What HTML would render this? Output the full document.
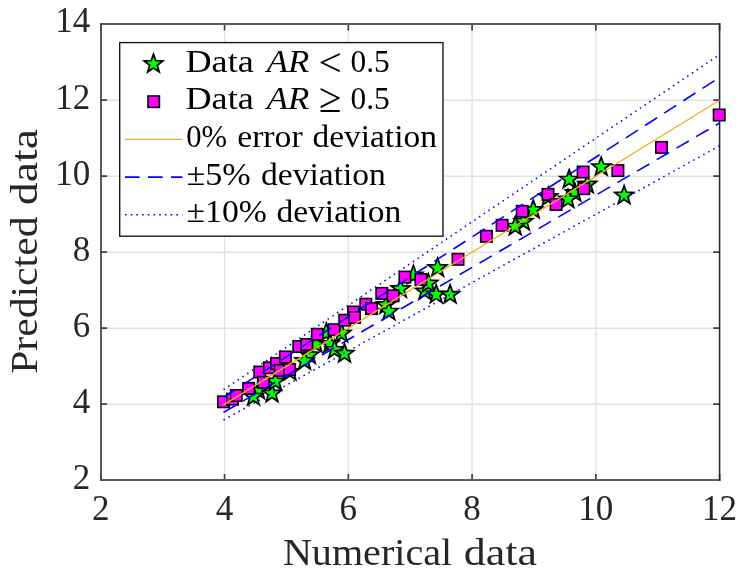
<!DOCTYPE html>
<html><head><meta charset="utf-8"><title>Predicted vs numerical data</title><style>
html,body{margin:0;padding:0;background:#fff;}
svg{display:block;will-change:transform;}
text{font-family:"Liberation Serif",serif;}
</style></head><body>
<svg width="743" height="575" viewBox="0 0 743 575">
<rect width="743" height="575" fill="#fff"/>
<path d="M224.56,24.2V480.2M348.32,24.2V480.2M472.08,24.2V480.2M595.84,24.2V480.2M100.8,404.20H719.6M100.8,328.20H719.6M100.8,252.20H719.6M100.8,176.20H719.6M100.8,100.20H719.6" stroke="#e2e2e2" stroke-width="1.4" fill="none"/>
<path d="M100.80,480.2V473.9M100.80,24.2V30.5M224.56,480.2V473.9M224.56,24.2V30.5M348.32,480.2V473.9M348.32,24.2V30.5M472.08,480.2V473.9M472.08,24.2V30.5M595.84,480.2V473.9M595.84,24.2V30.5M719.60,480.2V473.9M719.60,24.2V30.5M100.8,480.20H107.1M719.6,480.20H713.3000000000001M100.8,404.20H107.1M719.6,404.20H713.3000000000001M100.8,328.20H107.1M719.6,328.20H713.3000000000001M100.8,252.20H107.1M719.6,252.20H713.3000000000001M100.8,176.20H107.1M719.6,176.20H713.3000000000001M100.8,100.20H107.1M719.6,100.20H713.3000000000001M100.8,24.20H107.1M719.6,24.20H713.3000000000001" stroke="#404040" stroke-width="1.7" fill="none"/>
<path d="M100.1,24.0H720.35M100.1,480.0H720.35" stroke="#5c5c5c" stroke-width="1.8" fill="none"/>
<path d="M101.0,23.1V480.9" stroke="#4a4a4a" stroke-width="1.8" fill="none"/>
<path d="M719.6,23.1V480.9" stroke="#262626" stroke-width="1.5" fill="none"/>
<g fill="#00ff00" stroke="#000" stroke-width="1.7" stroke-miterlimit="10"><path d="M258.5,380.7L260.9,387.2L267.8,387.5L262.3,391.7L264.3,398.4L258.5,394.5L252.7,398.4L254.7,391.7L249.2,387.5L256.1,387.2Z"/><path d="M253.5,386.9L255.9,393.4L262.8,393.7L257.3,397.9L259.3,404.6L253.5,400.7L247.7,404.6L249.7,397.9L244.2,393.7L251.1,393.4Z"/><path d="M272.0,383.7L274.4,390.2L281.3,390.5L275.8,394.7L277.8,401.4L272.0,397.5L266.2,401.4L268.2,394.7L262.7,390.5L269.6,390.2Z"/><path d="M275.4,371.7L277.8,378.2L284.7,378.5L279.2,382.7L281.2,389.4L275.4,385.5L269.6,389.4L271.6,382.7L266.1,378.5L273.0,378.2Z"/><path d="M290.0,362.0L292.4,368.5L299.3,368.8L293.8,373.0L295.8,379.7L290.0,375.8L284.2,379.7L286.2,373.0L280.7,368.8L287.6,368.5Z"/><path d="M309.5,345.4L311.9,351.9L318.8,352.2L313.3,356.4L315.3,363.1L309.5,359.2L303.7,363.1L305.7,356.4L300.2,352.2L307.1,351.9Z"/><path d="M304.5,351.2L306.9,357.7L313.8,358.0L308.3,362.2L310.3,368.9L304.5,365.0L298.7,368.9L300.7,362.2L295.2,358.0L302.1,357.7Z"/><path d="M316.0,334.2L318.4,340.7L325.3,341.0L319.8,345.2L321.8,351.9L316.0,348.0L310.2,351.9L312.2,345.2L306.7,341.0L313.6,340.7Z"/><path d="M326.3,323.2L328.7,329.7L335.6,330.0L330.1,334.2L332.1,340.9L326.3,337.0L320.5,340.9L322.5,334.2L317.0,330.0L323.9,329.7Z"/><path d="M329.8,334.2L332.2,340.7L339.1,341.0L333.6,345.2L335.6,351.9L329.8,348.0L324.0,351.9L326.0,345.2L320.5,341.0L327.4,340.7Z"/><path d="M334.6,340.0L337.0,346.5L343.9,346.8L338.4,351.0L340.4,357.7L334.6,353.8L328.8,357.7L330.8,351.0L325.3,346.8L332.2,346.5Z"/><path d="M341.5,323.7L343.9,330.2L350.8,330.5L345.3,334.7L347.3,341.4L341.5,337.5L335.7,341.4L337.7,334.7L332.2,330.5L339.1,330.2Z"/><path d="M344.5,343.9L346.9,350.4L353.8,350.7L348.3,354.9L350.3,361.6L344.5,357.7L338.7,361.6L340.7,354.9L335.2,350.7L342.1,350.4Z"/><path d="M386.0,295.2L388.4,301.7L395.3,302.0L389.8,306.2L391.8,312.9L386.0,309.0L380.2,312.9L382.2,306.2L376.7,302.0L383.6,301.7Z"/><path d="M388.9,301.8L391.3,308.3L398.2,308.6L392.7,312.8L394.7,319.5L388.9,315.6L383.1,319.5L385.1,312.8L379.6,308.6L386.5,308.3Z"/><path d="M400.5,279.2L402.9,285.7L409.8,286.0L404.3,290.2L406.3,296.9L400.5,293.0L394.7,296.9L396.7,290.2L391.2,286.0L398.1,285.7Z"/><path d="M413.4,265.5L415.8,272.0L422.7,272.3L417.2,276.5L419.2,283.2L413.4,279.3L407.6,283.2L409.6,276.5L404.1,272.3L411.0,272.0Z"/><path d="M424.8,281.5L427.2,288.0L434.1,288.3L428.6,292.5L430.6,299.2L424.8,295.3L419.0,299.2L421.0,292.5L415.5,288.3L422.4,288.0Z"/><path d="M428.3,273.7L430.7,280.2L437.6,280.5L432.1,284.7L434.1,291.4L428.3,287.5L422.5,291.4L424.5,284.7L419.0,280.5L425.9,280.2Z"/><path d="M436.2,284.7L438.6,291.2L445.5,291.5L440.0,295.7L442.0,302.4L436.2,298.5L430.4,302.4L432.4,295.7L426.9,291.5L433.8,291.2Z"/><path d="M437.6,258.2L440.0,264.7L446.9,265.0L441.4,269.2L443.4,275.9L437.6,272.0L431.8,275.9L433.8,269.2L428.3,265.0L435.2,264.7Z"/><path d="M450.1,284.9L452.5,291.4L459.4,291.7L453.9,295.9L455.9,302.6L450.1,298.7L444.3,302.6L446.3,295.9L440.8,291.7L447.7,291.4Z"/><path d="M523.5,211.9L525.9,218.4L532.8,218.7L527.3,222.9L529.3,229.6L523.5,225.7L517.7,229.6L519.7,222.9L514.2,218.7L521.1,218.4Z"/><path d="M515.2,216.8L517.6,223.3L524.5,223.6L519.0,227.8L521.0,234.5L515.2,230.6L509.4,234.5L511.4,227.8L505.9,223.6L512.8,223.3Z"/><path d="M533.3,200.1L535.7,206.6L542.6,206.9L537.1,211.1L539.1,217.8L533.3,213.9L527.5,217.8L529.5,211.1L524.0,206.9L530.9,206.6Z"/><path d="M548.3,187.2L550.7,193.7L557.6,194.0L552.1,198.2L554.1,204.9L548.3,201.0L542.5,204.9L544.5,198.2L539.0,194.0L545.9,193.7Z"/><path d="M574.8,183.1L577.2,189.6L584.1,189.9L578.6,194.1L580.6,200.8L574.8,196.9L569.0,200.8L571.0,194.1L565.5,189.9L572.4,189.6Z"/><path d="M568.0,189.5L570.4,196.0L577.3,196.3L571.8,200.5L573.8,207.2L568.0,203.3L562.2,207.2L564.2,200.5L558.7,196.3L565.6,196.0Z"/><path d="M569.2,169.8L571.6,176.3L578.5,176.6L573.0,180.8L575.0,187.5L569.2,183.6L563.4,187.5L565.4,180.8L559.9,176.6L566.8,176.3Z"/><path d="M587.3,174.7L589.7,181.2L596.6,181.5L591.1,185.7L593.1,192.4L587.3,188.5L581.5,192.4L583.5,185.7L578.0,181.5L584.9,181.2Z"/><path d="M601.2,157.3L603.6,163.8L610.5,164.1L605.0,168.3L607.0,175.0L601.2,171.1L595.4,175.0L597.4,168.3L591.9,164.1L598.8,163.8Z"/><path d="M624.1,185.7L626.5,192.2L633.4,192.5L627.9,196.7L629.9,203.4L624.1,199.5L618.3,203.4L620.3,196.7L614.8,192.5L621.7,192.2Z"/></g>
<g fill="#ff00ff" stroke="#000" stroke-width="1.6"><rect x="217.8" y="396.1" width="11.4" height="11.4"/><rect x="226.8" y="393.5" width="11.4" height="11.4"/><rect x="230.6" y="389.8" width="11.4" height="11.4"/><rect x="242.9" y="382.7" width="11.4" height="11.4"/><rect x="254.1" y="366.3" width="11.4" height="11.4"/><rect x="257.7" y="376.6" width="11.4" height="11.4"/><rect x="263.8" y="362.1" width="11.4" height="11.4"/><rect x="270.8" y="357.8" width="11.4" height="11.4"/><rect x="274.5" y="364.7" width="11.4" height="11.4"/><rect x="279.7" y="351.3" width="11.4" height="11.4"/><rect x="283.9" y="363.8" width="11.4" height="11.4"/><rect x="293.1" y="340.8" width="11.4" height="11.4"/><rect x="301.1" y="338.8" width="11.4" height="11.4"/><rect x="311.6" y="328.6" width="11.4" height="11.4"/><rect x="328.3" y="324.0" width="11.4" height="11.4"/><rect x="339.1" y="314.5" width="11.4" height="11.4"/><rect x="347.8" y="306.3" width="11.4" height="11.4"/><rect x="348.8" y="311.8" width="11.4" height="11.4"/><rect x="360.1" y="298.5" width="11.4" height="11.4"/><rect x="365.8" y="302.9" width="11.4" height="11.4"/><rect x="376.1" y="287.7" width="11.4" height="11.4"/><rect x="387.4" y="290.1" width="11.4" height="11.4"/><rect x="399.2" y="271.4" width="11.4" height="11.4"/><rect x="415.2" y="273.8" width="11.4" height="11.4"/><rect x="452.3" y="253.6" width="11.4" height="11.4"/><rect x="480.7" y="230.6" width="11.4" height="11.4"/><rect x="496.4" y="219.6" width="11.4" height="11.4"/><rect x="516.5" y="205.6" width="11.4" height="11.4"/><rect x="542.3" y="188.7" width="11.4" height="11.4"/><rect x="550.4" y="198.7" width="11.4" height="11.4"/><rect x="577.4" y="166.3" width="11.4" height="11.4"/><rect x="578.1" y="183.0" width="11.4" height="11.4"/><rect x="612.2" y="164.9" width="11.4" height="11.4"/><rect x="655.8" y="141.7" width="11.4" height="11.4"/><rect x="713.5" y="109.3" width="11.4" height="11.4"/></g>
<g fill="none" stroke="#0000ff" stroke-width="1.6">
<path d="M223.51,404.85L719.60,100.20" stroke="#EDB120" stroke-width="1.3"/>
<path d="M223.51,397.28L719.60,77.40" stroke-dasharray="14.3 8.5"/>
<path d="M223.51,412.41L719.60,123.00" stroke-dasharray="14.3 8.5"/>
<path d="M223.51,389.71L719.60,54.60" stroke-dasharray="1.5 4.21"/>
<path d="M223.51,419.98L719.60,145.80" stroke-dasharray="1.5 4.21"/>
</g>
<g fill="#262626" font-size="35"><text x="90.2" y="488.7" text-anchor="end">2</text><text x="90.2" y="412.7" text-anchor="end">4</text><text x="90.2" y="336.6" text-anchor="end">6</text><text x="90.2" y="260.6" text-anchor="end">8</text><text x="90.2" y="184.6" text-anchor="end">10</text><text x="90.2" y="108.5" text-anchor="end">12</text><text x="90.2" y="32.3" text-anchor="end">14</text><text x="100.8" y="519.8" text-anchor="middle">2</text><text x="224.6" y="519.8" text-anchor="middle">4</text><text x="348.3" y="519.8" text-anchor="middle">6</text><text x="472.1" y="519.8" text-anchor="middle">8</text><text x="595.8" y="519.8" text-anchor="middle">10</text><text x="719.6" y="519.8" text-anchor="middle">12</text></g>
<g font-size="37" fill="#262626"><text x="282.92" y="565" textLength="169.24" lengthAdjust="spacingAndGlyphs">Numerical</text><text x="463.81" y="565" textLength="73.13" lengthAdjust="spacingAndGlyphs">data</text></g>
<g font-size="37" fill="#262626" transform="translate(36.5,372.7) rotate(-90)"><text x="-1.13" y="0" textLength="157.33" lengthAdjust="spacingAndGlyphs">Predicted</text><text x="167.46" y="0" textLength="76.31" lengthAdjust="spacingAndGlyphs">data</text></g>
<rect x="119.7" y="42.6" width="323.30" height="193.60" fill="#fff" stroke="#1a1a1a" stroke-width="1.4"/>
<path d="M153.5,54.2L155.9,60.7L162.8,61.0L157.3,65.2L159.3,71.9L153.5,68.0L147.7,71.9L149.7,65.2L144.2,61.0L151.1,60.7Z" fill="#00ff00" stroke="#000" stroke-width="1.7" stroke-miterlimit="10"/>
<g fill="#ff00ff" stroke="#000" stroke-width="1.6"><rect x="148.0" y="96.0" width="11.4" height="11.4"/></g>
<path d="M125,139.4H182.4" stroke="#EDB120" stroke-width="1.3"/>
<path d="M125,177.1H182.4" stroke="#0000ff" stroke-width="1.6" stroke-dasharray="14.6 8.4"/>
<path d="M125,214.8H182.4" stroke="#0000ff" stroke-width="1.6" stroke-dasharray="1.6 4.1"/>
<g>
<text x="185.54" y="71.5" font-size="31" fill="#000" textLength="68.18" lengthAdjust="spacingAndGlyphs">Data</text>
<text x="266.85" y="71.5" font-size="31" font-style="italic" fill="#000" textLength="42.51" lengthAdjust="spacingAndGlyphs">AR</text>
<text x="318.54" y="76.1" font-size="40" fill="#000" textLength="23.27" lengthAdjust="spacingAndGlyphs">&lt;</text>
<text x="350.49" y="71.5" font-size="31" fill="#000" textLength="39.27" lengthAdjust="spacingAndGlyphs">0.5</text>
<text x="185.54" y="109.1" font-size="31" fill="#000" textLength="68.18" lengthAdjust="spacingAndGlyphs">Data</text>
<text x="266.85" y="109.1" font-size="31" font-style="italic" fill="#000" textLength="42.51" lengthAdjust="spacingAndGlyphs">AR</text>
<text x="318.64" y="112.1" font-size="42" fill="#000" textLength="22.6" lengthAdjust="spacingAndGlyphs">≥</text>
<text x="350.49" y="109.1" font-size="31" fill="#000" textLength="39.27" lengthAdjust="spacingAndGlyphs">0.5</text>
<text x="186.31" y="146.8" font-size="31" fill="#000" textLength="40.81" lengthAdjust="spacingAndGlyphs">0%</text>
<text x="237.21" y="146.8" font-size="31" fill="#000" textLength="65.44" lengthAdjust="spacingAndGlyphs">error</text>
<text x="312.42" y="146.8" font-size="31" fill="#000" textLength="124.47" lengthAdjust="spacingAndGlyphs">deviation</text>
<text x="186.5" y="184.5" font-size="31" fill="#000" textLength="64.28" lengthAdjust="spacingAndGlyphs">±5%</text>
<text x="261.12" y="184.5" font-size="31" fill="#000" textLength="124.77" lengthAdjust="spacingAndGlyphs">deviation</text>
<text x="186.51" y="222.2" font-size="31" fill="#000" textLength="80.41" lengthAdjust="spacingAndGlyphs">±10%</text>
<text x="276.42" y="222.2" font-size="31" fill="#000" textLength="124.77" lengthAdjust="spacingAndGlyphs">deviation</text>
</g>
</svg></body></html>
